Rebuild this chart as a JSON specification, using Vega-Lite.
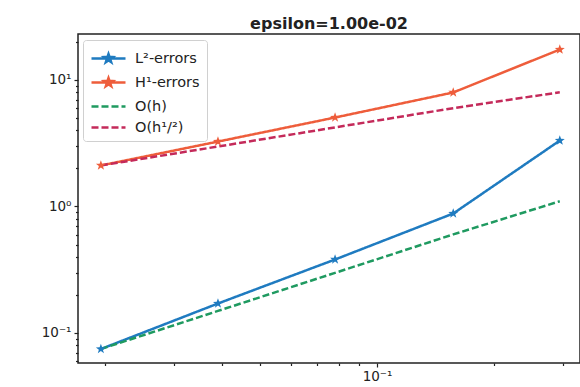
{
  "$schema": "https://vega.github.io/schema/vega-lite/v6.json",
  "autosize": "none",
  "width": 502,
  "height": 329,
  "padding": {"left": 78, "top": 34, "right": 0, "bottom": 24},
  "background": "white",
  "title": {"text": "epsilon=1.00e-02", "font": "DejaVu Sans", "fontSize": 16, "fontWeight": "bold", "color": "#222", "anchor": "middle", "offset": 2},
  "config": {
    "view": {"stroke": "#222", "strokeWidth": 1.5},
    "axis": {"grid": false, "domain": false, "tickColor": "#222", "labelColor": "#222", "labelFont": "DejaVu Sans", "labelFontSize": 13.5, "tickWidth": 1.2}
  },
  "data": {"values": [
    {"h": 0.0195, "err": 0.0747, "series": "L²-errors"},
    {"h": 0.039, "err": 0.171, "series": "L²-errors"},
    {"h": 0.078, "err": 0.381, "series": "L²-errors"},
    {"h": 0.157, "err": 0.880, "series": "L²-errors"},
    {"h": 0.295, "err": 3.32, "series": "L²-errors"},
    {"h": 0.0195, "err": 2.11, "series": "H¹-errors"},
    {"h": 0.039, "err": 3.26, "series": "H¹-errors"},
    {"h": 0.078, "err": 5.05, "series": "H¹-errors"},
    {"h": 0.157, "err": 7.97, "series": "H¹-errors"},
    {"h": 0.295, "err": 17.4, "series": "H¹-errors"},
    {"h": 0.0195, "err": 0.0747, "series": "O(h)"},
    {"h": 0.039, "err": 0.1494, "series": "O(h)"},
    {"h": 0.078, "err": 0.2988, "series": "O(h)"},
    {"h": 0.157, "err": 0.6014, "series": "O(h)"},
    {"h": 0.295, "err": 1.10, "series": "O(h)"},
    {"h": 0.0195, "err": 2.11, "series": "O(h¹/²)"},
    {"h": 0.039, "err": 2.98, "series": "O(h¹/²)"},
    {"h": 0.078, "err": 4.22, "series": "O(h¹/²)"},
    {"h": 0.157, "err": 5.99, "series": "O(h¹/²)"},
    {"h": 0.295, "err": 8.0, "series": "O(h¹/²)"}
  ]},
  "encoding": {
    "x": {"field": "h", "type": "quantitative",
      "scale": {"type": "log", "domain": [0.01703, 0.3325], "nice": false},
      "axis": {"title": null, "values": [0.02, 0.03, 0.04, 0.05, 0.06, 0.07, 0.08, 0.09, 0.1, 0.2, 0.3],
        "labelExpr": "datum.value === 0.1 ? '10⁻¹' : ''",
        "tickSize": {"condition": {"test": "datum.value === 0.1", "value": 4}, "value": 2.5},
        "labelPadding": 2}},
    "y": {"field": "err", "type": "quantitative",
      "scale": {"type": "log", "domain": [0.0579, 23.1], "nice": false},
      "axis": {"title": null, "values": [0.06, 0.07, 0.08, 0.09, 0.1, 0.2, 0.3, 0.4, 0.5, 0.6, 0.7, 0.8, 0.9, 1, 2, 3, 4, 5, 6, 7, 8, 9, 10, 20],
        "labelExpr": "datum.value === 10 ? '10¹' : datum.value === 1 ? '10⁰' : datum.value === 0.1 ? '10⁻¹' : ''",
        "tickSize": {"condition": {"test": "datum.value === 0.1 || datum.value === 1 || datum.value === 10", "value": 4}, "value": 2.5},
        "labelPadding": 3}},
    "color": {"field": "series", "type": "nominal",
      "scale": {"domain": ["L²-errors", "H¹-errors", "O(h)", "O(h¹/²)"], "range": ["#1f7bc0", "#ee5d3b", "#1f9a60", "#c42a5a"]},
      "legend": {
        "title": null, "orient": "none", "legendX": 5, "legendY": 6,
        "padding": 7, "strokeColor": "#d0d0d0", "fillColor": "white", "cornerRadius": 3,
        "labelFont": "DejaVu Sans", "labelFontSize": 14.5, "labelColor": "#222", "labelOffset": 15,
        "symbolSize": 400, "symbolOffset": 7, "symbolStrokeWidth": 2.5, "rowPadding": 3,
        "encode": {"symbols": {"update": {
          "shape": {"signal": "indexof(['O(h)','O(h¹/²)'], datum.value) >= 0 ? 'M-1.7,0H1.7' : 'M-1.7,0H1.7M0,-0.45L0.108,-0.15L0.428,-0.14L0.171,0.054L0.266,0.365L0,0.18L-0.266,0.365L-0.171,0.054L-0.428,-0.14L-0.108,-0.15Z'"},
          "stroke": {"scale": "color", "field": "value"},
          "fill": {"scale": "color", "field": "value"},
          "fillOpacity": {"value": 1},
          "strokeWidth": {"value": 2.5},
          "strokeDash": {"signal": "indexof(['O(h)','O(h¹/²)'], datum.value) >= 0 ? [7, 3] : [1, 0]"}
        }}}
      }}
  },
  "layer": [
    {"mark": {"type": "line", "strokeWidth": 2.5},
     "encoding": {"strokeDash": {"field": "series", "type": "nominal",
       "scale": {"domain": ["L²-errors", "H¹-errors", "O(h)", "O(h¹/²)"], "range": [[1, 0], [1, 0], [7, 3], [7, 3]]},
       "legend": null}}},
    {"transform": [{"filter": "indexof(['L²-errors','H¹-errors'], datum.series) >= 0"}],
     "mark": {"type": "point", "filled": true, "opacity": 1, "size": 110,
       "shape": "M0,-1L0.24,-0.33L0.95,-0.31L0.38,0.12L0.59,0.81L0,0.4L-0.59,0.81L-0.38,0.12L-0.95,-0.31L-0.24,-0.33Z"}}
  ]
}
